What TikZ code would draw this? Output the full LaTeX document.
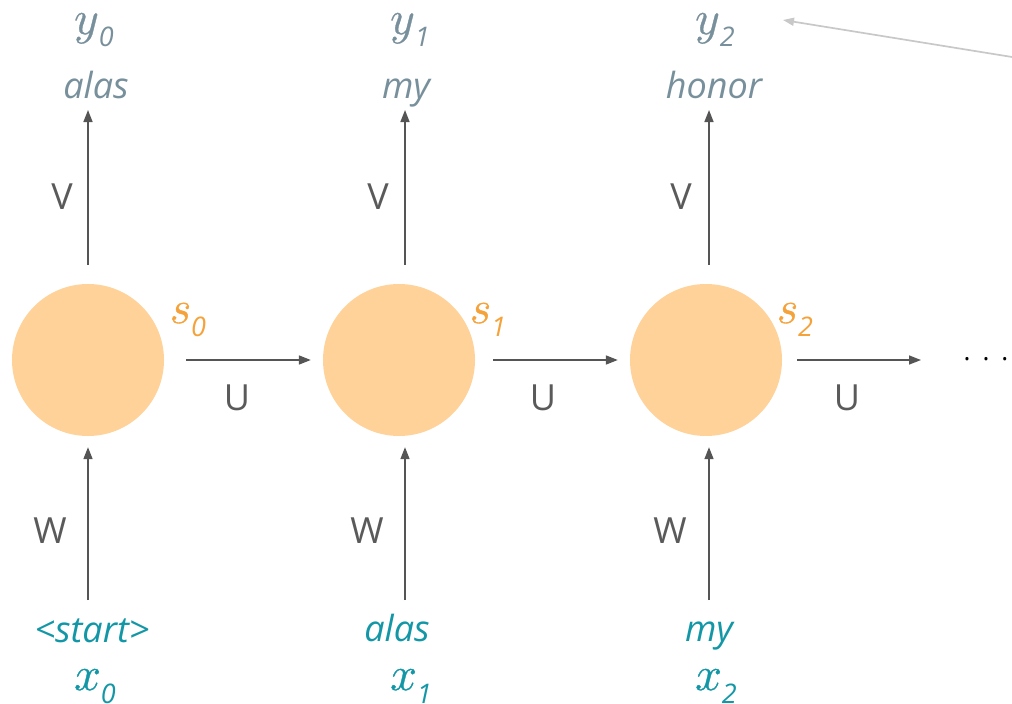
\RequirePackage{fix-cm}
\documentclass[tikz,border=0pt]{standalone}
\usepackage{amsmath}
\usepackage{fontspec}
\setmainfont{Open Sans}
\usetikzlibrary{arrows.meta}
\definecolor{peach}{HTML}{FFD29A}
\definecolor{sorange}{HTML}{F5A23A}
\definecolor{ygray}{HTML}{78909C}
\definecolor{xteal}{HTML}{1397A6}
\definecolor{lblgray}{HTML}{5A5A5A}
\definecolor{arrgray}{HTML}{555555}
\definecolor{notegray}{HTML}{C8C8C8}
\newcommand{\mysub}[1]{\raisebox{-13pt}{\fontsize{27}{30}\selectfont\itshape #1}}
\newcommand{\heavy}[1]{\special{pdf:literal direct 2 Tr 0.35 w}#1\special{pdf:literal direct 0 Tr}}
\tikzset{
  cell/.style={circle, fill=peach, minimum size=152pt, inner sep=0pt},
  arr/.style={draw=arrgray, line width=1.6pt, -{Triangle[length=12pt,width=9pt]}},
  wlbl/.style={text=lblgray, font=\fontsize{36}{40}\selectfont, inner sep=0pt},
  ytxt/.style={text=ygray, font=\fontsize{36}{40}\selectfont\itshape, inner sep=0pt, anchor=base},
  xtxt/.style={text=xteal, font=\fontsize{36}{40}\selectfont\itshape, inner sep=0pt, anchor=base},
  ymath/.style={text=ygray, font=\fontsize{48}{52}\selectfont, inner sep=0pt, anchor=base},
  xmath/.style={text=xteal, font=\fontsize{48}{52}\selectfont, inner sep=0pt, anchor=base},
  smath/.style={text=sorange, font=\fontsize{46}{50}\selectfont, inner sep=0pt, anchor=base},
  note/.style={draw=notegray, line width=1.7pt, -{Triangle[length=11pt,width=8pt]}}
}
\begin{document}
\begin{tikzpicture}[x=1pt,y=-1pt]
\useasboundingbox (0,0) rectangle (1012,704);
% cells
\node[cell] (c0) at (88,360) {};
\node[cell] (c1) at (399,360) {};
\node[cell] (c2) at (706,360) {};
% state labels
\node[smath] (s0) at (188,323) {\heavy{$s$}\mysub{0}};
\node[smath] (s1) at (488,323) {\heavy{$s$}\mysub{1}};
\node[smath] (s2) at (795,323) {\heavy{$s$}\mysub{2}};
% outputs
\node[ymath] (y0) at (94,34) {\heavy{$y$}\mysub{0}};
\node[ymath] (y1) at (410,34) {\heavy{$y$}\mysub{1}};
\node[ymath] (y2) at (715,34) {\heavy{$y$}\mysub{2}};
\node[ytxt] (o0) at (96,98) {alas};
\node[ytxt] (o1) at (406,98) {my};
\node[ytxt] (o2) at (714,98) {honor};
% inputs
\node[xtxt] (i0) at (92,642) {<start>};
\node[xtxt] (i1) at (397,641) {alas};
\node[xtxt] (i2) at (709,641) {my};
\node[xmath] (x0) at (95,690) {\heavy{$x$}\mysub{0}};
\node[xmath] (x1) at (411,690) {\heavy{$x$}\mysub{1}};
\node[xmath] (x2) at (716,690) {\heavy{$x$}\mysub{2}};
% weight labels
\node[wlbl] (v0) at (62,197) {V};
\node[wlbl] (v1) at (378,197) {V};
\node[wlbl] (v2) at (681,197) {V};
\node[wlbl] (u0) at (237,398) {U};
\node[wlbl] (u1) at (543,398) {U};
\node[wlbl] (u2) at (847,398) {U};
\node[wlbl] (w0) at (50,531) {W};
\node[wlbl] (w1) at (367,531) {W};
\node[wlbl] (w2) at (670,531) {W};
% dots
\node[inner sep=0pt, anchor=base, font=\fontsize{26}{30}\selectfont] (dots) at (986,360) {.\hspace{12pt}.\hspace{12pt}.};
% anchor coordinates
\coordinate (vt0) at (88,110);
\coordinate (vt1) at (405,110);
\coordinate (vt2) at (709,110);
\coordinate (wb0) at (88,600);
\coordinate (wb1) at (405,600);
\coordinate (wb2) at (709,600);
\coordinate (uend) at (921,360);
\coordinate (notestart) at (1012,57);
\coordinate (noteend) at (783,20);
% V arrows
\draw[arr, shorten <=19pt] (c0.north) -- (vt0);
\draw[arr, shorten <=19pt] (vt1 |- c1.north) -- (vt1);
\draw[arr, shorten <=19pt] (vt2 |- c2.north) -- (vt2);
% W arrows
\draw[arr, shorten >=11pt] (wb0) -- (c0.south);
\draw[arr, shorten >=11pt] (wb1) -- (wb1 |- c1.south);
\draw[arr, shorten >=11pt] (wb2) -- (wb2 |- c2.south);
% U arrows
\draw[arr, shorten <=22pt, shorten >=12pt] (c0.east) -- (c1.west);
\draw[arr, shorten <=18pt, shorten >=12pt] (c1.east) -- (c2.west);
\draw[arr, shorten <=15pt] (c2.east) -- (uend);
% annotation pointer
\draw[note] (notestart) -- (noteend);
\end{tikzpicture}
\end{document}
